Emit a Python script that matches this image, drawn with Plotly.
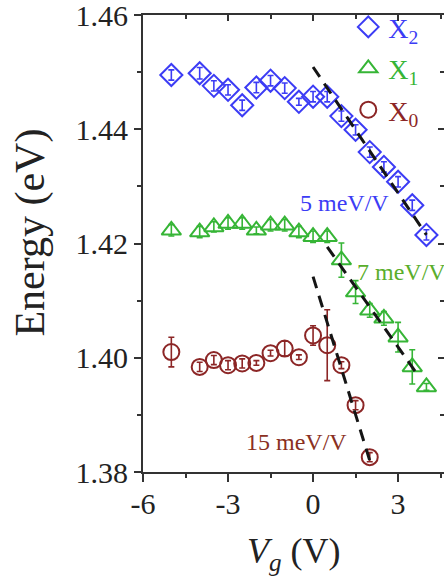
import plotly.graph_objects as go

# ---------------- data ----------------
V_X2 = [-5, -4, -3.5, -3, -2.5, -2, -1.5, -1, -0.5, 0, 0.5, 1, 1.5, 2, 2.5, 3, 3.5, 4]
E_X2 = [1.4495, 1.4498, 1.4476, 1.4469, 1.4442, 1.4473, 1.4485, 1.4472, 1.4448,
        1.4457, 1.4457, 1.4423, 1.4399, 1.4360, 1.4334, 1.4308, 1.4267, 1.4215]
ERR_X2 = [0.0009, 0.0010, 0.0009, 0.0009, 0.0009, 0.0009, 0.0009, 0.0009, 0.0006,
          0.0009, 0.0009, 0.0009, 0.0009, 0.0009, 0.0009, 0.0009, 0.0009, 0.0009]

V_X1 = [-5, -4, -3.5, -3, -2.5, -2, -1.5, -1, -0.5, 0, 0.5, 1, 1.5, 2, 2.5, 3, 3.5, 4]
E_X1 = [1.4223, 1.4220, 1.4229, 1.4235, 1.4235, 1.4223, 1.4232, 1.4232, 1.4220,
        1.4212, 1.4212, 1.4171, 1.4115, 1.4083, 1.4069, 1.4036, 1.3984, 1.3949]
ERR_X1 = [0.0010, 0.0010, 0.0009, 0.0010, 0.0010, 0.0006, 0.0010, 0.0010, 0.0010,
          0.0010, 0.0010, 0.0030, 0.0020, 0.0012, 0.0012, 0.0026, 0.0030, 0.0006]

V_X0 = [-5, -4, -3.5, -3, -2.5, -2, -1.5, -1, -0.5, 0, 0.5, 1, 1.5, 2]
E_X0 = [1.4010, 1.3984, 1.3996, 1.3987, 1.3990, 1.3991, 1.4008, 1.4016, 1.4001,
        1.4039, 1.4022, 1.3987, 1.3917, 1.3826]
ERR_X0 = [0.0026, 0.0008, 0.0008, 0.0008, 0.0008, 0.0004, 0.0005, 0.0013, 0.0004,
          0.0017, 0.0062, 0.0006, 0.0008, 0.0008]

# linear fits (endpoints)
FIT_X2_V = [0.0, 4.0]
FIT_X2_E = [1.4509, 1.4215]
FIT_X1_V = [0.5, 3.75]
FIT_X1_E = [1.4194, 1.3966]
FIT_X0_V = [0.0, 2.0]
FIT_X0_E = [1.4142, 1.3820]

SLOPE_LABELS = ["5 meV/V", "7 meV/V", "15 meV/V"]
SLOPE_POS_V = [1.1, 1.48, -0.6]
SLOPE_POS_E = [1.4271, 1.4150, 1.3852]

X_TICK_VALS = [-6, -3, 0, 3]
X_TICK_TEXT = ["-6", "-3", "0", "3"]

# ---------------- style ----------------
FONT = "Liberation Serif, Times New Roman, serif"
BLUE = "#3c3cf5"
GREEN = "#36b536"
RED = "#8c2626"
AXC = "#333333"

fig = go.Figure()

def series(v, e, err, name, symbol, color, size):
    fig.add_trace(go.Scatter(
        x=v, y=e, mode="markers", name=name, legendgroup=name,
        marker=dict(symbol=symbol, size=size, color=color,
                    line=dict(color=color, width=2)),
        error_y=dict(type="data", array=err, visible=True, color=color,
                     thickness=1.6, width=3),
        cliponaxis=False,
    ))

series(V_X2, E_X2, ERR_X2, f"<span style='color:{BLUE}'>X<sub>2</sub></span>",
       "diamond-open", BLUE, 17)
series(V_X1, E_X1, ERR_X1, f"<span style='color:{GREEN}'>X<sub>1</sub></span>",
       "triangle-up-open", GREEN, 17)
series(V_X0, E_X0, ERR_X0, f"<span style='color:{RED}'>X<sub>0</sub></span>",
       "circle-open", RED, 16)

for fv, fe in [(FIT_X2_V, FIT_X2_E), (FIT_X1_V, FIT_X1_E), (FIT_X0_V, FIT_X0_E)]:
    fig.add_trace(go.Scatter(
        x=fv, y=fe, mode="lines", showlegend=False,
        line=dict(color="#151515", width=3, dash="12px,8px"),
        cliponaxis=False,
    ))

# invisible copy so the mirrored (top / right) tick axes are drawn
fig.add_trace(go.Scatter(x=V_X0, y=E_X0, xaxis="x2", yaxis="y2", mode="markers",
                         marker=dict(opacity=0), showlegend=False, hoverinfo="skip"))

label_colors = [BLUE, "#5aae2c", "#8a3022"]
annotations = []
for txt, xv, yv, col in zip(SLOPE_LABELS, SLOPE_POS_V, SLOPE_POS_E, label_colors):
    annotations.append(dict(
        x=xv, y=yv, xref="x", yref="y", text=txt, showarrow=False,
        xanchor="left" if txt.startswith("7") else "center", yanchor="middle",
        font=dict(family=FONT, size=24, color=col)))

annotations.append(dict(
    x=-0.372, y=0.524, xref="paper", yref="paper", text="Energy (eV)",
    textangle=-90, showarrow=False, xanchor="center", yanchor="middle",
    font=dict(family=FONT, size=42, color="#222222")))
annotations.append(dict(
    x=0.502, y=-0.178, xref="paper", yref="paper",
    text="<i>V<sub>g</sub></i> (V)", showarrow=False,
    xanchor="center", yanchor="middle",
    font=dict(family=FONT, size=36, color="#222222")))

XR = [-6, 4.62]
YR = [1.38, 1.46]

common = dict(showgrid=False, zeroline=False, linecolor=AXC,
              linewidth=2, tickcolor=AXC, tickwidth=2, automargin=False)

fig.update_layout(
    width=444, height=579,
    margin=dict(l=143, r=0, t=15, b=107, autoexpand=False),
    paper_bgcolor="white", plot_bgcolor="white",
    font=dict(family=FONT, color="#222222"),
    showlegend=True,
    legend=dict(x=0.682, y=1.028, xanchor="left", yanchor="top",
                bgcolor="rgba(0,0,0,0)", borderwidth=0,
                font=dict(family=FONT, size=28),
                traceorder="grouped", tracegroupgap=2,
                itemwidth=30),
    annotations=annotations,
    xaxis=dict(range=XR, tickmode="array", tickvals=X_TICK_VALS, ticktext=X_TICK_TEXT,
               ticks="outside", ticklen=8, showline=True, mirror=True,
               tickfont=dict(family=FONT, size=30, color="#222222"),
               ticklabelstandoff=-4, ticklabeloverflow="allow",
               minor=dict(dtick=1.5, tick0=0, ticks="outside", ticklen=4,
                          tickwidth=2, tickcolor=AXC, showgrid=False),
               **common),
    yaxis=dict(range=YR, tickmode="linear", tick0=1.38, dtick=0.02, tickformat=".2f",
               ticks="outside", ticklen=7, showline=True, mirror=True,
               tickfont=dict(family=FONT, size=30, color="#222222"),
               ticklabelstandoff=0, ticklabeloverflow="allow",
               minor=dict(dtick=0.01, tick0=1.38, ticks="outside", ticklen=4,
                          tickwidth=2, tickcolor=AXC, showgrid=False),
               **common),
    xaxis2=dict(range=XR, overlaying="x", side="top", anchor="y",
                tickmode="array", tickvals=X_TICK_VALS, showticklabels=False,
                ticks="inside", ticklen=6, showline=False,
                minor=dict(dtick=1.5, tick0=0, ticks="inside", ticklen=4,
                           tickwidth=2, tickcolor=AXC, showgrid=False),
                **common),
    yaxis2=dict(range=YR, overlaying="y", side="right", anchor="x",
                tickmode="linear", tick0=1.38, dtick=0.02, showticklabels=False,
                ticks="inside", ticklen=6, showline=False,
                minor=dict(dtick=0.01, tick0=1.38, ticks="inside", ticklen=4,
                           tickwidth=2, tickcolor=AXC, showgrid=False),
                **common),
)

fig.write_html("out.html",
               config={"displayModeBar": False},
               post_script="document.body.style.margin='0px';document.body.style.overflow='hidden';")
